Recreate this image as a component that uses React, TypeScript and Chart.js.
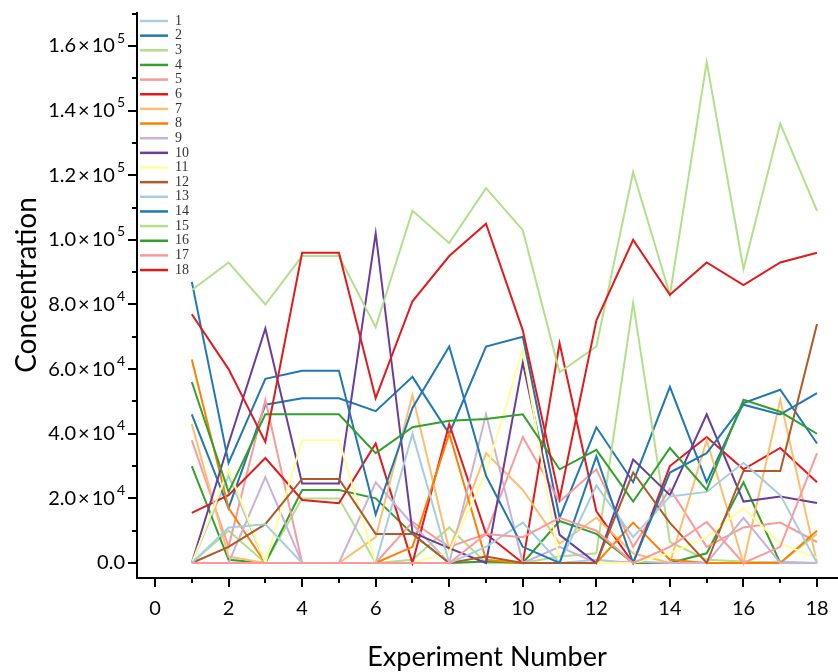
import { useEffect, useRef } from "react";
import { Chart, registerables } from "chart.js";

Chart.register(...registerables);

const EXPERIMENTS = [1, 2, 3, 4, 5, 6, 7, 8, 9, 10, 11, 12, 13, 14, 15, 16, 17, 18];
const SERIES_NAMES = ["1", "2", "3", "4", "5", "6", "7", "8", "9", "10", "11", "12", "13", "14", "15", "16", "17", "18"];
const COLORS = [
  "#a6cee3", "#1f78b4", "#b2df8a", "#33a02c", "#fb9a99", "#e31a1c",
  "#fdbf6f", "#ff7f00", "#cab2d6", "#6a3d9a", "#ffff99", "#b15928",
  "#a6cee3", "#1f78b4", "#b2df8a", "#33a02c", "#fb9a99", "#e31a1c",
];

const S1 = [0, 27000, 0, 0, 0, 0, 0, 0, 500, 0, 0, 1000, 0, 0, 0, 0, 500, 0];
const S2 = [46000, 17000, 49000, 51000, 51000, 47000, 57600, 40000, 67000, 70000, 14000, 42000, 25000, 54500, 25000, 49500, 53600, 37000];
const S3 = [0, 10000, 0, 20000, 20000, 0, 1000, 11000, 0, 0, 2000, 3000, 80500, 6500, 1000, 500, 0, 9000];
const S4 = [30000, 1000, 0, 22600, 22600, 20000, 9000, 0, 500, 0, 13000, 9000, 0, 0, 3000, 25000, 0, 0];
const S5 = [38000, 5000, 50500, 0, 0, 0, 12700, 5000, 9000, 39000, 19000, 29000, 5000, 23000, 5000, 11000, 12500, 6500];
const S6 = [15500, 21000, 32500, 19500, 18500, 37000, 0, 43000, 9000, 0, 68000, 16000, 0, 30000, 39000, 29000, 35600, 25000];
const S7 = [43000, 2000, 0, 0, 0, 8000, 52000, 4000, 34000, 22600, 6000, 14000, 3000, 0, 38000, 0, 50500, 0];
const S8 = [63000, 17000, 0, 0, 0, 0, 5000, 40000, 1000, 0, 0, 0, 12500, 1000, 0, 0, 0, 10000];
const S9 = [0, 0, 26600, 0, 0, 25000, 12000, 0, 46000, 0, 5000, 0, 500, 0, 0, 14000, 0, 0];
const S10 = [0, 37000, 72600, 24600, 24600, 102000, 9500, 4600, 0, 62000, 8700, 0, 32000, 21000, 46000, 19000, 20600, 18600];
const S11 = [0, 29000, 0, 38000, 38000, 0, 0, 3400, 28000, 66000, 0, 0, 0, 3000, 8000, 17000, 6000, 1600];
const S12 = [0, 5000, 12000, 26000, 26000, 9000, 9000, 0, 2000, 0, 0, 0, 28000, 12400, 0, 28500, 28500, 74000];
const S13 = [0, 11000, 12000, 0, 0, 0, 40000, 0, 5000, 12500, 0, 24000, 8000, 20600, 22000, 31000, 21000, 0];
const S14 = [87000, 31000, 57000, 59500, 59500, 15000, 48000, 67000, 27000, 5000, 0, 33000, 0, 28000, 34000, 49000, 46000, 52600];
const S15 = [84500, 93000, 80000, 95000, 95000, 73000, 109000, 99000, 116000, 103000, 59000, 67000, 121000, 83000, 155000, 91000, 136000, 109000];
const S16 = [56000, 22000, 46000, 46000, 46000, 34000, 42000, 44000, 44600, 46000, 29000, 35000, 19000, 35600, 22600, 50500, 46800, 40000];
const S17 = [0, 0, 0, 0, 0, 0, 0, 0, 9000, 8000, 14000, 10000, 0, 5000, 12700, 0, 5000, 34000];
const S18 = [77000, 60000, 37500, 96000, 96000, 51000, 81000, 95000, 105000, 72000, 20000, 75000, 100000, 83000, 93000, 86000, 93000, 96000];

const SERIES = [S1, S2, S3, S4, S5, S6, S7, S8, S9, S10, S11, S12, S13, S14, S15, S16, S17, S18];

const X_TICKS = [0, 2, 4, 6, 8, 10, 12, 14, 16, 18];
const Y_TICKS = [0, 20000, 40000, 60000, 80000, 100000, 120000, 140000, 160000];
const Y_MANTISSA = ["0.0", "2.0", "4.0", "6.0", "8.0", "1.0", "1.2", "1.4", "1.6"];
const Y_EXPONENT = ["", "4", "4", "4", "4", "5", "5", "5", "5"];
const X_TITLE = "Experiment Number";
const Y_TITLE = "Concentration";

const SANS = "Lato, 'Open Sans', sans-serif";

const axesPlugin = {
  id: "originAxes",
  afterDraw(chart: any) {
    const { ctx, chartArea: ca } = chart;
    const xs = chart.scales.x;
    const ys = chart.scales.y;
    ctx.save();
    ctx.strokeStyle = "#000";
    ctx.fillStyle = "#000";
    ctx.lineWidth = 2;
    ctx.beginPath();
    ctx.moveTo(ca.left, ca.top);
    ctx.lineTo(ca.left, ca.bottom + 1);
    ctx.moveTo(ca.left - 1, ca.bottom);
    ctx.lineTo(ca.right, ca.bottom);
    ctx.stroke();
    ctx.beginPath();
    for (let v = 0; v <= 18; v++) {
      const px = Math.round(xs.getPixelForValue(v));
      const len = v % 2 === 0 ? 9 : 5;
      ctx.moveTo(px, ca.bottom);
      ctx.lineTo(px, ca.bottom + len);
    }
    for (let v = 0; v <= ys.max; v += 10000) {
      const py = Math.round(ys.getPixelForValue(v));
      const len = (v / 10000) % 2 === 0 ? 9 : 5;
      ctx.moveTo(ca.left, py);
      ctx.lineTo(ca.left - len, py);
    }
    ctx.stroke();
    // x labels
    ctx.font = `20px ${SANS}`;
    ctx.textAlign = "center";
    ctx.textBaseline = "middle";
    X_TICKS.forEach((v) => {
      ctx.fillText(String(v), xs.getPixelForValue(v), ca.bottom + 31);
    });
    // y labels
    const rightX = ca.left - 12;
    Y_TICKS.forEach((v, i) => {
      const py = ys.getPixelForValue(v);
      ctx.textBaseline = "middle";
      ctx.textAlign = "right";
      let endX = rightX;
      if (Y_EXPONENT[i]) {
        ctx.font = `14px ${SANS}`;
        const ew = ctx.measureText(Y_EXPONENT[i]).width;
        ctx.fillText(Y_EXPONENT[i], endX, py - 8);
        endX -= ew + 2;
        ctx.font = `20px ${SANS}`;
        ctx.fillText("10", endX, py);
        endX -= ctx.measureText("10").width + 2;
        ctx.fillText("×", endX, py);
        endX -= ctx.measureText("×").width + 2;
        ctx.fillText(Y_MANTISSA[i], endX, py);
      } else {
        ctx.font = `20px ${SANS}`;
        ctx.fillText(Y_MANTISSA[i], endX, py);
      }
    });
    // titles
    ctx.font = `27px ${SANS}`;
    ctx.textAlign = "center";
    ctx.textBaseline = "middle";
    ctx.fillText(X_TITLE, 487, 657);
    ctx.save();
    ctx.translate(27, 285);
    ctx.rotate(-Math.PI / 2);
    ctx.font = `28px ${SANS}`;
    ctx.fillText(Y_TITLE, 0, 0);
    ctx.restore();
    // legend
    ctx.lineWidth = 2.5;
    ctx.font = "14px 'Liberation Serif', 'DejaVu Serif', serif";
    ctx.textAlign = "left";
    ctx.textBaseline = "middle";
    chart.data.datasets.forEach((ds: any, i: number) => {
      const ly = 21 + i * 14.65;
      ctx.strokeStyle = ds.borderColor;
      ctx.beginPath();
      ctx.moveTo(140, ly);
      ctx.lineTo(168, ly);
      ctx.stroke();
      ctx.fillStyle = "#333";
      ctx.fillText(ds.label, 175, ly);
    });
    ctx.restore();
  },
};

export default function App() {
  const ref = useRef<HTMLCanvasElement | null>(null);
  useEffect(() => {
    if (!ref.current) return;
    const chart = new Chart(ref.current, {
      type: "line",
      data: {
        datasets: SERIES.map((vals, i) => ({
          label: SERIES_NAMES[i],
          data: vals.map((v, j) => ({ x: EXPERIMENTS[j], y: v })),
          borderColor: COLORS[i],
          backgroundColor: COLORS[i],
          borderWidth: 2,
          pointRadius: 0,
          tension: 0,
          fill: false,
          order: SERIES.length - 1 - i,
        })),
      },
      options: {
        animation: false,
        responsive: false,
        devicePixelRatio: 1,
        layout: { padding: { left: 137, top: 12, right: 0, bottom: 94 } },
        plugins: { legend: { display: false }, tooltip: { enabled: false } },
        scales: {
          x: { type: "linear", display: false, min: -0.49, max: 18.57 },
          y: { type: "linear", display: false, min: -4642, max: 170522 },
        },
      },
      plugins: [axesPlugin],
    });
    return () => chart.destroy();
  }, []);
  return (
    <div style={{ position: "fixed", left: 0, top: 0, width: 838, height: 672, background: "#fff" }}>
      <canvas ref={ref} width={838} height={672} style={{ width: 838, height: 672 }} />
    </div>
  );
}
